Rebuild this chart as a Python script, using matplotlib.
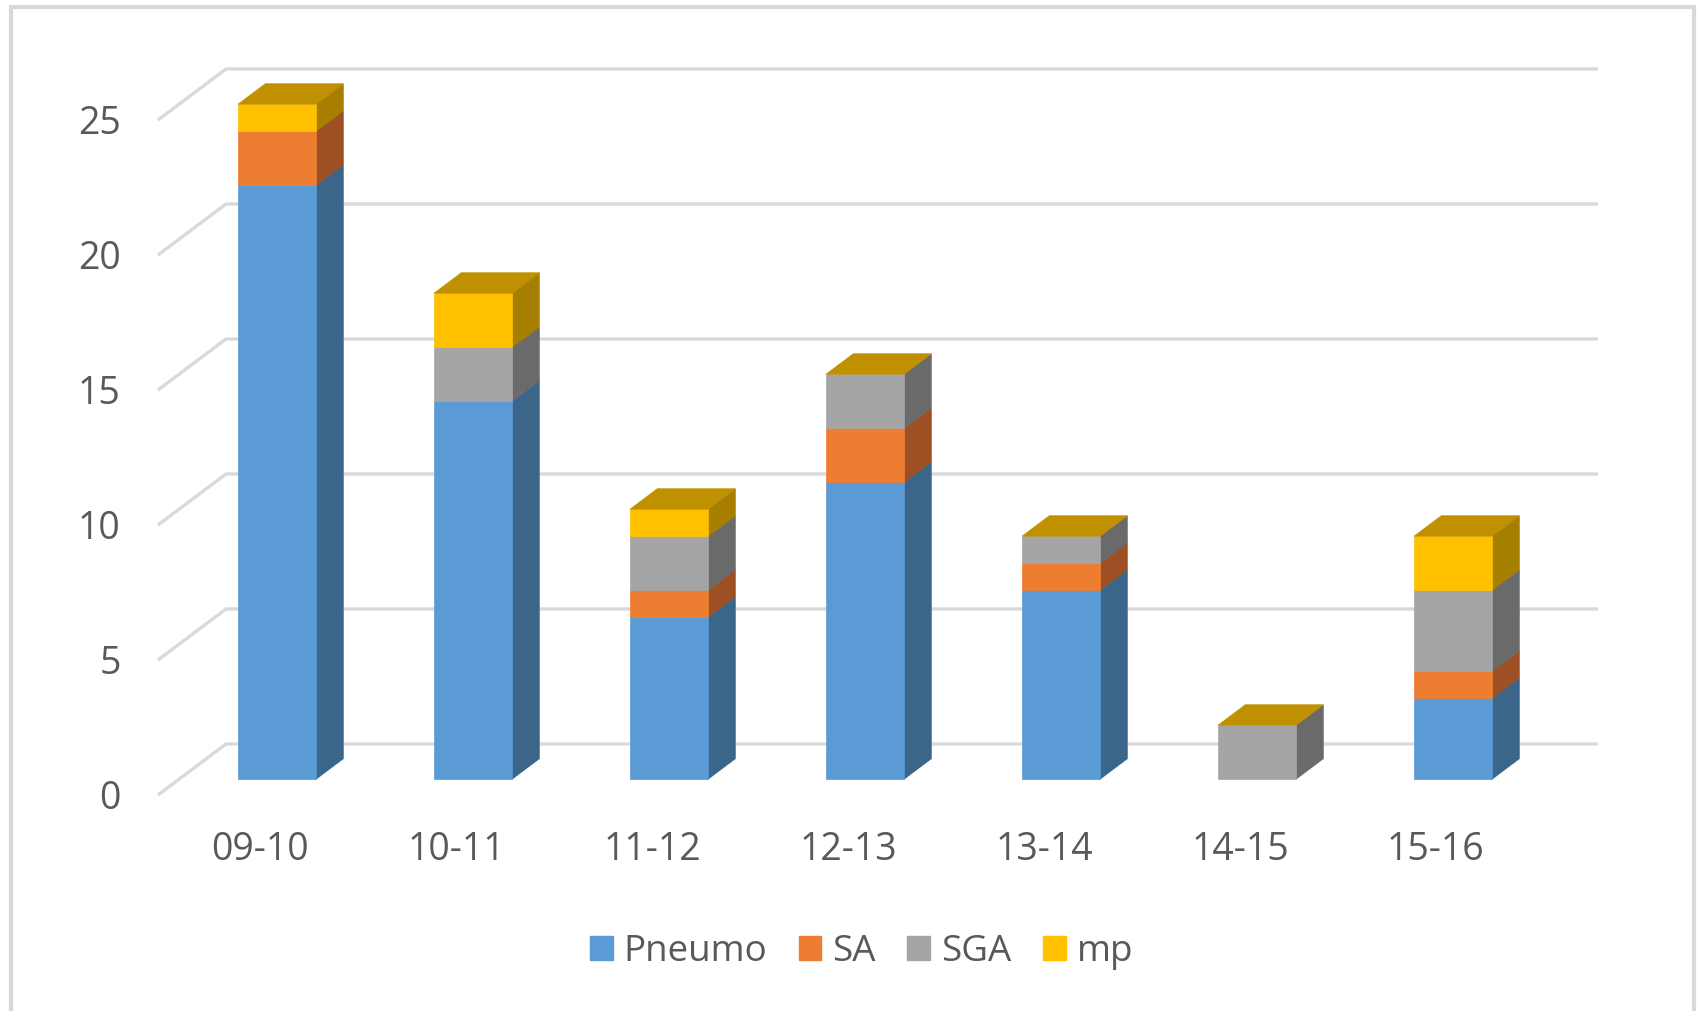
import matplotlib
matplotlib.use("Agg")
import matplotlib.pyplot as plt
from matplotlib.patches import Polygon, Rectangle, Patch

plt.rcParams['font.family'] = ['Open Sans', 'DejaVu Sans']

# Seasons and case counts per organism
seasons = ["09-10", "10-11", "11-12", "12-13", "13-14", "14-15", "15-16"]
pneumo = [22, 14, 6, 11, 7, 0, 3]
sa = [2, 0, 1, 2, 1, 0, 1]
sga = [0, 2, 2, 2, 1, 2, 3]
mp = [1, 2, 1, 0, 0, 0, 2]
y_ticks = [0, 5, 10, 15, 20, 25]

series = [("Pneumo", pneumo), ("SA", sa), ("SGA", sga), ("mp", mp)]
front_col = {"Pneumo": "#5B9BD5", "SA": "#ED7D31", "SGA": "#A5A5A5", "mp": "#FFC000"}
side_col = {"Pneumo": "#3B6589", "SA": "#9D5023", "SGA": "#6A6A6A", "mp": "#A67F00"}
top_col = "#BF9000"
grid_col = "#D9D9D9"
text_col = "#595959"

# oblique projection: depth d in [0, 1] shifts right and up
DX, DY = 0.347, 1.89
D_FRONT, D_BACK = 0.31, 0.71
HALF_W = 0.199


def proj(x, v, d):
    return (x + d * DX, v + d * DY)


fig = plt.figure(figsize=(16.99, 10.11), dpi=100)
ax = fig.add_axes([0, 0, 1, 1])
ax.set_xlim(-256 / 196, (1699 - 256) / 196)
ax.set_ylim((795 - 1011) / 27, 795 / 27)
ax.axis("off")

n = len(seasons)
x_left, x_right = -0.5, n - 0.5

# back wall gridlines and side wall diagonals
for t in y_ticks:
    p0 = proj(x_left, t, 0)
    p1 = proj(x_left, t, 1)
    p2 = proj(x_right, t, 1)
    ax.plot([p0[0], p1[0], p2[0]], [p0[1], p1[1], p2[1]],
            color=grid_col, lw=2.4, solid_capstyle="butt", zorder=1)
    ax.text(-0.69, t - 0.13, str(t), ha="right", va="center",
            fontsize=27, color=text_col)

# stacked 3D columns
for i in range(n):
    x0, x1 = i - HALF_W, i + HALF_W
    base = 0
    for name, vals in series:
        h = vals[i]
        if h <= 0:
            continue
        top = base + h
        front = [proj(x0, base, D_FRONT), proj(x1, base, D_FRONT),
                 proj(x1, top, D_FRONT), proj(x0, top, D_FRONT)]
        side = [proj(x1, base, D_FRONT), proj(x1, base, D_BACK),
                proj(x1, top, D_BACK), proj(x1, top, D_FRONT)]
        ax.add_patch(Polygon(side, closed=True, facecolor=side_col[name],
                             edgecolor=side_col[name], lw=0.5, zorder=3))
        ax.add_patch(Polygon(front, closed=True, facecolor=front_col[name],
                             edgecolor=front_col[name], lw=0.5, zorder=4))
        base = top
    cap = [proj(x0, base, D_FRONT), proj(x1, base, D_FRONT),
           proj(x1, base, D_BACK), proj(x0, base, D_BACK)]
    ax.add_patch(Polygon(cap, closed=True, facecolor=top_col,
                         edgecolor=top_col, lw=0.5, zorder=4))
    ax.text(i + 0.02, -2.05, seasons[i], ha="center", va="center",
            fontsize=27, color=text_col)

handles = [Patch(facecolor=front_col[nm], edgecolor=front_col[nm], label=nm)
           for nm, _ in series]
leg = fig.legend(handles=handles, loc="center", bbox_to_anchor=(0.507, 0.058),
                 ncol=4, frameon=False, fontsize=26.5, handlelength=0.62,
                 handleheight=0.62, handletextpad=0.3, columnspacing=0.85)
for t in leg.get_texts():
    t.set_color(text_col)

# chart frame
fig.patches.append(Rectangle((11 / 1699, -0.05), (1694 - 11) / 1699, 1.05 - 7 / 1011,
                             transform=fig.transFigure, fill=False,
                             edgecolor=grid_col, lw=3, zorder=0))

fig.savefig("out.png", dpi=100)
